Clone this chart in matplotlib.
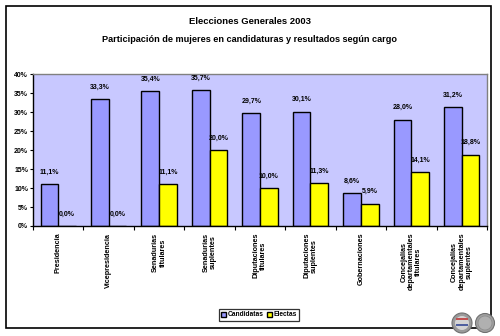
import matplotlib
matplotlib.use("Agg")
import matplotlib.pyplot as plt
import numpy as np
from matplotlib.patches import Rectangle, Ellipse

plt.rcParams['font.family'] = ['Liberation Sans', 'DejaVu Sans']

categories = ["Presidencia", "Vicepresidencia", "Senadurías\ntitulares", "Senadurías\nsuplentes",
              "Diputaciones\ntitulares", "Diputaciones\nsuplentes", "Gobernaciones",
              "Concejalías\ndepartamentales\ntitulares", "Concejalías\ndepartamentales\nsuplentes"]
candidatas = [11.1, 33.3, 35.4, 35.7, 29.7, 30.1, 8.6, 28.0, 31.2]
electas = [0.0, 0.0, 11.1, 20.0, 10.0, 11.3, 5.9, 14.1, 18.8]
yticks = [0, 5, 10, 15, 20, 25, 30, 35, 40]

fig = plt.figure(figsize=(5, 3.36), dpi=100)
fig.patch.set_facecolor('white')

W, H = 500, 336

# outer border
fig.add_artist(Rectangle((6/W, 1-328/H), 485/W, 322/H, transform=fig.transFigure,
                         fill=False, edgecolor='black', linewidth=1.2))

fig.text(0.5, 1-21/H, "Elecciones Generales 2003", ha='center', va='center',
         fontsize=6.8, fontweight='bold')
fig.text(0.5, 1-39/H, "Participación de mujeres en candidaturas y resultados según cargo",
         ha='center', va='center', fontsize=6.6, fontweight='bold')

ax = fig.add_axes([33/W, 1-226/H, 454/W, 152/H])
ax.set_facecolor('#C8C8FF')
x = np.arange(len(categories))
w = 0.35
b1 = ax.bar(x - w/2, candidatas, w, color='#9999FF', edgecolor='black', linewidth=1.0, label='Candidatas')
b2 = ax.bar(x + w/2, electas, w, color='#FFFF00', edgecolor='black', linewidth=1.0, label='Electas')

def fmt(v):
    return f"{v:.1f}%".replace('.', ',')

for xi, v in zip(x - w/2, candidatas):
    ax.text(xi, v + 2.2, fmt(v), ha='center', va='bottom', fontsize=5, fontweight='bold')
for xi, v in zip(x + w/2, electas):
    ax.text(xi, v + 2.2, fmt(v), ha='center', va='bottom', fontsize=5, fontweight='bold')

ax.set_xlim(-0.5, len(categories) - 0.5)
ax.set_ylim(0, 40)
ax.set_yticks(yticks)
ax.set_yticklabels([f"{t}%" for t in yticks], fontsize=5, fontweight='bold')
ax.tick_params(axis='y', length=2.5, width=0.8, pad=1)
ax.set_xticks([])
ax.set_xticks(np.arange(len(categories) + 1) - 0.5, minor=True)
ax.tick_params(axis='x', which='minor', length=3, width=0.8, direction='out')
for xi, lab in zip(x, categories):
    ax.text(xi, -1.8, lab, rotation=90, ha='center', va='top', multialignment='center',
            fontsize=5.2, fontweight='bold', linespacing=1.1)

for s in ['top', 'right']:
    ax.spines[s].set_color('#808080')
    ax.spines[s].set_linewidth(1.0)
for s in ['left', 'bottom']:
    ax.spines[s].set_color('black')
    ax.spines[s].set_linewidth(1.0)

leg = fig.legend(handles=[b1, b2], loc='center', bbox_to_anchor=(259/W, 1-315/H), ncol=2,
                 frameon=True, fancybox=False, handlelength=0.7, handleheight=0.8,
                 handletextpad=0.3, columnspacing=0.5, borderpad=0.35,
                 prop={'weight': 'bold', 'size': 4.8})
leg.get_frame().set_edgecolor('black')
leg.get_frame().set_linewidth(0.9)

# decorative seals bottom right
def ell(cx, cy, r, **kw):
    fig.add_artist(Ellipse((cx/W, 1-cy/H), 2*r/W, 2*r/H, transform=fig.transFigure, **kw))

ell(462, 323, 10, facecolor='#9a9a9a', edgecolor='#707070', linewidth=0.8)
ell(462, 323, 7, facecolor='#d4d4d4', edgecolor='none')
fig.add_artist(Rectangle((456/W, 1-320/H), 12/W, 2.5/H, transform=fig.transFigure,
                         facecolor='#c05050', edgecolor='none'))
fig.add_artist(Rectangle((456/W, 1-326/H), 12/W, 2.5/H, transform=fig.transFigure,
                         facecolor='#5060a0', edgecolor='none'))
ell(485, 323, 9.5, facecolor='#a0a0a0', edgecolor='#707070', linewidth=0.8)
ell(485, 323, 7, facecolor='#b0b0b0', edgecolor='#8a8a8a', linewidth=0.5)

fig.savefig("out.png", dpi=100)
